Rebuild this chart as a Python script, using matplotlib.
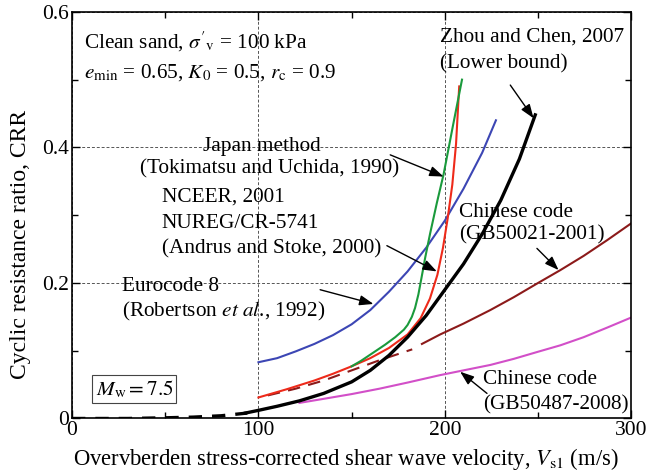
import numpy as np
import matplotlib
matplotlib.use("Agg")
import matplotlib.pyplot as plt
from matplotlib.ticker import MultipleLocator

plt.rcParams['font.family'] = ['Liberation Serif', 'DejaVu Serif']
plt.rcParams['mathtext.fontset'] = 'stix'

# Zhou and Chen, 2007 (нижняя граница): пунктир у нуля + сплошная часть
vs_zc_dash = [0, 30, 50, 65, 80, 94]
crr_zc_dash = [0.0, 0.0, 0.001, 0.002, 0.004, 0.008]
vs_zc = [93, 100, 110, 122, 135, 150, 160, 170, 180, 190, 200, 210, 220, 230, 240, 248.5]
crr_zc = [0.008, 0.012, 0.018, 0.026, 0.037, 0.054, 0.071, 0.093, 0.12, 0.152, 0.19,
          0.228, 0.272, 0.322, 0.383, 0.448]

# Eurocode 8 (Robertson et al., 1992)
vs_ec8 = [100, 110, 120, 130, 140, 150, 160, 170, 180, 190, 200, 210, 220, 227.4]
crr_ec8 = [0.083, 0.089, 0.099, 0.110, 0.123, 0.139, 0.160, 0.187, 0.217, 0.252,
           0.292, 0.339, 0.392, 0.44]

# NCEER / NUREG (Andrus and Stoke, 2000)
vs_nceer = [100, 115, 130, 140, 150, 160, 170, 180, 187, 192, 196, 199, 201.5, 204, 206, 207.7]
crr_nceer = [0.031, 0.043, 0.056, 0.066, 0.077, 0.089, 0.104, 0.124, 0.148, 0.177,
             0.212, 0.252, 0.295, 0.345, 0.405, 0.49]

# Japan method (Tokimatsu and Uchida, 1990)
vs_jp = [150, 155, 162.6, 168, 173.4, 178, 180, 182.3, 184, 185.8, 187.5, 189.5,
         192.1, 195.7, 199.3, 204.2, 209.2]
crr_jp = [0.077, 0.085, 0.099, 0.109, 0.12, 0.131, 0.138, 0.150, 0.163, 0.183, 0.208,
          0.238, 0.273, 0.318, 0.36, 0.43, 0.50]

# Chinese code GB50021-2001
vs_gb21_dash = [105, 120, 135, 150, 165, 182.5]
crr_gb21_dash = [0.034, 0.044, 0.056, 0.071, 0.086, 0.102]
vs_gb21 = [187.7, 197.5, 210, 224.4, 237, 249.4, 262, 274.5, 287, 300]
crr_gb21 = [0.11, 0.124, 0.140, 0.160, 0.179, 0.199, 0.219, 0.240, 0.263, 0.288]

# Chinese code GB50487-2008
vs_gb487 = [122, 135, 150, 165, 180, 197.5, 210, 224.4, 237, 249.4, 262, 274.5, 287, 300]
crr_gb487 = [0.023, 0.029, 0.036, 0.044, 0.053, 0.064, 0.071, 0.079, 0.088, 0.098,
             0.108, 0.12, 0.134, 0.149]

x_ticks = [0, 100, 200, 300]
x_labels = ['0', '100', '200', '300']
y_ticks = [0, 0.2, 0.4, 0.6]
y_labels = ['0', '0.2', '0.4', '0.6']

fig = plt.figure(figsize=(6.61, 4.75), dpi=100)
ax = fig.add_axes([0.109, 0.119, 0.846, 0.856])

ax.plot(vs_ec8, crr_ec8, color='#3c46b4', lw=1.5)
ax.plot(vs_gb487, crr_gb487, color='#d24fc8', lw=1.5)
ax.plot(vs_gb21_dash, crr_gb21_dash, color='#8c1a1a', lw=1.5, dashes=(6, 4))
ax.plot(vs_gb21, crr_gb21, color='#8c1a1a', lw=1.5)
ax.plot(vs_nceer, crr_nceer, color='#ee2a1a', lw=1.5)
ax.plot(vs_jp, crr_jp, color='#1a9a3c', lw=1.5)
ax.plot(vs_zc_dash, crr_zc_dash, color='black', lw=2.4, dashes=(4, 3))
ax.plot(vs_zc, crr_zc, color='black', lw=2.4)

ax.set_xlim(0, 300)
ax.set_ylim(0, 0.6)
ax.set_xticks(x_ticks)
ax.set_xticklabels(x_labels)
ax.set_yticks(y_ticks)
ax.set_yticklabels(y_labels)
ax.xaxis.set_minor_locator(MultipleLocator(50))
ax.yaxis.set_minor_locator(MultipleLocator(0.1))
ax.tick_params(which='both', direction='in', top=True, right=True, labelsize=15.5, width=1)
ax.tick_params(which='major', length=6, pad=2)
ax.tick_params(which='minor', length=4)
ax.grid(True, which='major', linestyle=(0, (3, 2)), color='#555555', lw=0.7)
for s in ax.spines.values():
    s.set_linewidth(1.2)

ax.set_xlabel(r"Overvberden stress-corrected shear wave velocity, $V_{\rm s1}$ (m/s)",
              fontsize=16.3, labelpad=4, x=0.49)
ax.set_ylabel("Cyclic resistance ratio, CRR", fontsize=17, labelpad=8, y=0.427)

fs = 15.3
ax.text(6.4, 0.556, r"Clean sand, $\sigma'_{\rm v}$ = 100 kPa", fontsize=fs, va='center')
ax.text(6.4, 0.511, r"$e_{\rm min}$ = 0.65, $K_0$ = 0.5, $r_{\rm c}$ = 0.9", fontsize=fs, va='center')
ax.text(197.5, 0.563, "Zhou and Chen, 2007", fontsize=fs, va='center')
ax.text(197.5, 0.524, "(Lower bound)", fontsize=fs, va='center')
ax.text(70.5, 0.402, "Japan method", fontsize=fs, va='center')
ax.text(36.5, 0.369, "(Tokimatsu and Uchida, 1990)", fontsize=fs, va='center')
ax.text(48.1, 0.327, "NCEER, 2001", fontsize=fs, va='center')
ax.text(48.1, 0.288, "NUREG/CR-5741", fontsize=fs, va='center')
ax.text(48.1, 0.251, "(Andrus and Stoke, 2000)", fontsize=fs, va='center')
ax.text(26.8, 0.195, "Eurocode 8", fontsize=fs, va='center')
ax.text(26.8, 0.158, r"(Robertson $\it{et\ al}$., 1992)", fontsize=fs, va='center')
ax.text(207.4, 0.304, "Chinese code", fontsize=fs, va='center')
ax.text(207.4, 0.271, "(GB50021-2001)", fontsize=fs, va='center')
ax.text(220.7, 0.057, "Chinese code", fontsize=fs, va='center')
ax.text(220.7, 0.020, "(GB50487-2008)", fontsize=fs, va='center')
ax.text(33.5, 0.0435, r"$M_{\rm w} = 7.5$", fontsize=fs, va='center', ha='center',
        bbox=dict(boxstyle='square,pad=0.15', fc='white', ec='#444444', lw=0.8))

arr = dict(arrowstyle='-|>,head_length=0.6,head_width=0.22', color='black', lw=1.0,
           mutation_scale=14, shrinkA=0, shrinkB=0)
ax.annotate("", xy=(199.3, 0.357), xytext=(170.7, 0.389), arrowprops=arr)
ax.annotate("", xy=(195.7, 0.217), xytext=(168.9, 0.255), arrowprops=arr)
ax.annotate("", xy=(161.7, 0.169), xytext=(133.1, 0.190), arrowprops=arr)
ax.annotate("", xy=(247.6, 0.443), xytext=(235.1, 0.492), arrowprops=arr)
ax.annotate("", xy=(261.0, 0.219), xytext=(249.4, 0.251), arrowprops=arr)
ax.annotate("", xy=(208.2, 0.069), xytext=(222.6, 0.037), arrowprops=arr)

fig.savefig("out.png", dpi=100)
